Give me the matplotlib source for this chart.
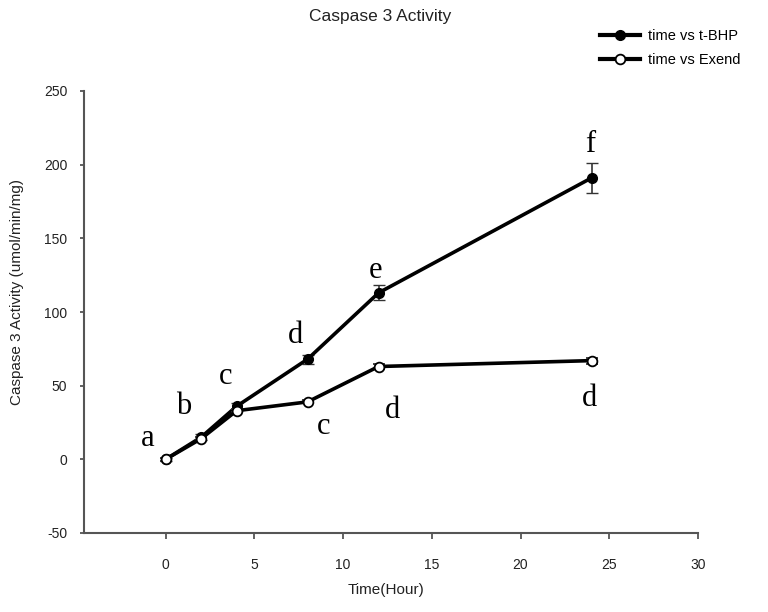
import matplotlib
matplotlib.use("Agg")
import matplotlib.pyplot as plt
from matplotlib.lines import Line2D

time = [0, 2, 4, 8, 12, 24]
tbhp = [0, 15, 36, 68, 113, 191]
tbhp_err = [1, 2, 2, 3, 5, 10]
exend = [0, 14, 33, 39, 63, 67]
exend_err = [1, 1, 1, 1, 2, 2]

letters = ["a", "b", "c", "d", "e", "f", "c", "d", "d"]
letter_x = [-1.0, 1.0, 3.4, 7.3, 11.8, 23.9, 8.9, 12.8, 23.9]
letter_y = [14, 36, 56, 84, 128, 214, 22, 33, 41]

xticks = [0, 5, 10, 15, 20, 25, 30]
yticks = [-50, 0, 50, 100, 150, 200, 250]

plt.rcParams['font.family'] = ['Liberation Sans', 'DejaVu Sans']
plt.rcParams['axes.unicode_minus'] = False

fig = plt.figure(figsize=(7.68, 6.12), dpi=100)
ax = fig.add_axes([84/768, 1-533/612, (698-84)/768, (533-91)/612])

ax.errorbar(time, tbhp, yerr=tbhp_err, color='black', lw=2.6, marker='o',
            ms=7, mfc='black', mec='black', capsize=4, elinewidth=1.2,
            ecolor='#333333', zorder=3)
ax.errorbar(time, exend, yerr=exend_err, color='black', lw=2.6, marker='o',
            ms=7, mfc='white', mec='black', mew=1.3, capsize=4, elinewidth=1.2,
            ecolor='#333333', zorder=4)

for t, x, y in zip(letters, letter_x, letter_y):
    ax.text(x, y, t, fontsize=22, family=['Liberation Serif'], ha='center',
            va='center', color='black')

ax.set_xlim(-4.6, 30)
ax.set_ylim(-50, 250)
ax.set_xticks(xticks)
ax.set_yticks(yticks)
for s in ['top', 'right']:
    ax.spines[s].set_visible(False)
for s in ['left', 'bottom']:
    ax.spines[s].set_color('#555555')
    ax.spines[s].set_linewidth(1.5)
ax.tick_params(axis='x', direction='out', length=4, width=1.3, color='#555555',
               pad=14, labelsize=10, labelcolor='#222222')
ax.tick_params(axis='y', direction='out', length=3, width=1.3, color='#555555',
               pad=9, labelsize=10, labelcolor='#222222')

fig.text(380/768, 1-17/612, "Caspase 3 Activity", ha='center', va='center',
         fontsize=12.5, color='#222222')
fig.text(386/768, 1-590/612, "Time(Hour)", ha='center', va='center',
         fontsize=11, color='#222222')
fig.text(17/768, 1-292/612, "Caspase 3 Activity (umol/min/mg)", ha='center',
         va='center', rotation=90, fontsize=11, color='#222222')

h1 = Line2D([], [], color='black', lw=3, marker='o', ms=7, mfc='black')
h2 = Line2D([], [], color='black', lw=3, marker='o', ms=7, mfc='white', mew=1.3)
fig.legend([h1, h2], ["time vs t-BHP", "time vs Exend"], loc='upper left',
           bbox_to_anchor=(600/768, 1-29/612), frameon=False, fontsize=10.5,
           handlelength=2.75, handletextpad=0.55, labelspacing=0.7,
           borderaxespad=0, borderpad=0)

fig.savefig("out.png", dpi=100)
